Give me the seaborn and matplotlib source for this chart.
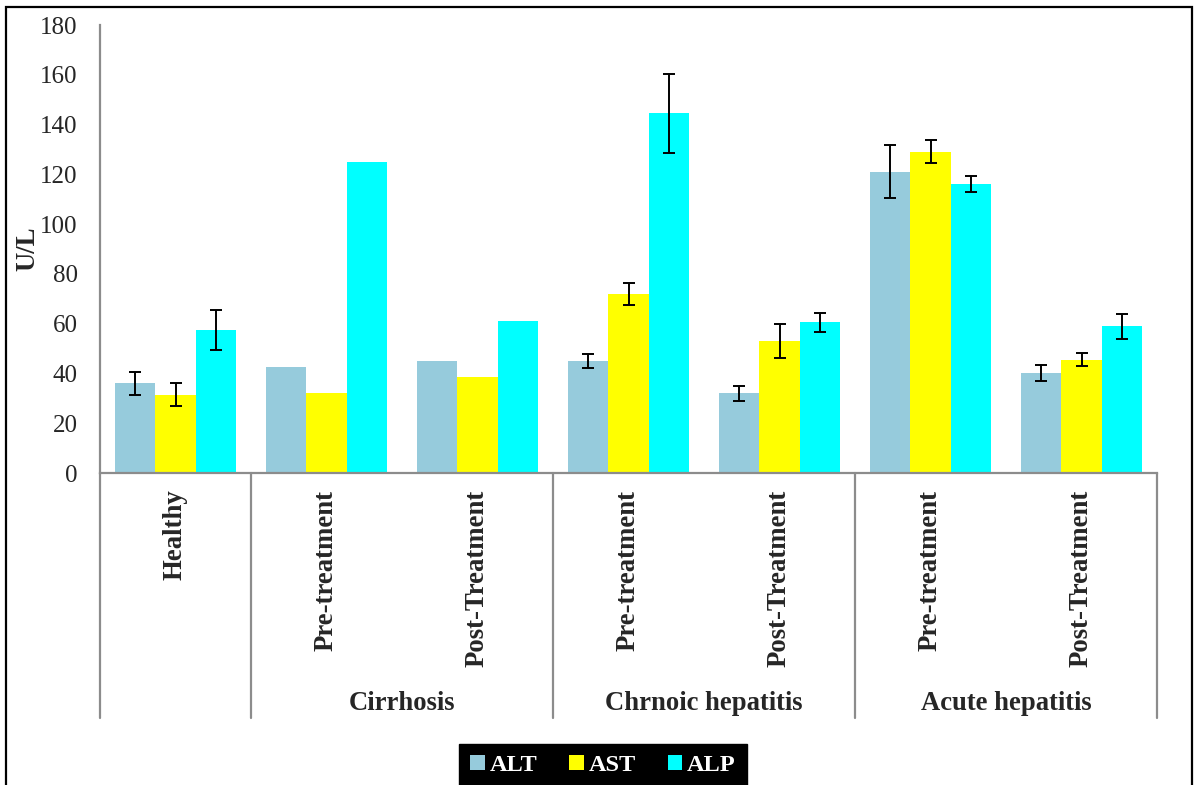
import numpy as np
import pandas as pd
import matplotlib
matplotlib.use("Agg")
import matplotlib.pyplot as plt
import matplotlib.transforms as mtransforms
from matplotlib.patches import Patch, Rectangle
import seaborn as sns

# ---- data -------------------------------------------------------------
category_keys = ["Healthy",
                 "Cirrhosis Pre", "Cirrhosis Post",
                 "Chronic Pre", "Chronic Post",
                 "Acute Pre", "Acute Post"]
tick_labels = ["Healthy", "Pre-treatment", "Post-Treatment",
               "Pre-treatment", "Post-Treatment",
               "Pre-treatment", "Post-Treatment"]
group_labels = ["Cirrhosis", "Chrnoic hepatitis", "Acute hepatitis"]

enzymes = ["ALT", "AST", "ALP"]
alt = [36, 42.5, 45, 45, 32, 121, 40]
ast = [31.5, 32, 38.5, 72, 53, 129, 45.5]
alp = [57.5, 125, 61, 144.5, 60.5, 116, 59]
alt_err = [4.5, np.nan, np.nan, 3.0, 3.0, 10.7, 3.2]
ast_err = [4.5, np.nan, np.nan, 4.3, 6.7, 4.6, 2.6]
alp_err = [8.0, np.nan, np.nan, 16.0, 3.8, 3.2, 5.0]

colors = {"ALT": "#96CBDC", "AST": "#FFFF00", "ALP": "#00FFFF"}

values = {"ALT": alt, "AST": ast, "ALP": alp}
errors = {"ALT": alt_err, "AST": ast_err, "ALP": alp_err}
df = pd.DataFrame([
    {"Category": c, "Enzyme": e, "Value": values[e][i]}
    for e in enzymes for i, c in enumerate(category_keys)
])

# ---- style ------------------------------------------------------------
sns.set_style("white")
plt.rcParams["font.family"] = ["Liberation Serif", "DejaVu Serif"]

W, H = 1195, 785
fig = plt.figure(figsize=(W / 100, H / 100), dpi=100)
ax_left, ax_right, ax_bottom, ax_top = 100, 1157, 473, 25
ax = fig.add_axes([ax_left / W, (H - ax_bottom) / H,
                   (ax_right - ax_left) / W, (ax_bottom - ax_top) / H])

sns.barplot(data=df, x="Category", y="Value", hue="Enzyme",
            order=category_keys, hue_order=enzymes, palette=colors,
            errorbar=None, width=0.8, linewidth=0, saturation=1,
            legend=False, ax=ax)

# error bars on top of each bar
for enz, cont in zip(enzymes, ax.containers):
    xs = [b.get_x() + b.get_width() / 2 for b in cont]
    ys = [b.get_height() for b in cont]
    ax.errorbar(xs, ys, yerr=errors[enz], fmt="none", ecolor="black",
                elinewidth=1.4, capsize=4.5, capthick=1.4, zorder=5)

ax.set_xlim(-0.5, len(category_keys) - 0.5)
ax.set_ylim(0, 180)
ax.set_yticks(np.arange(0, 181, 20))
ax.tick_params(axis="y", length=0, pad=16, labelsize=18)
ax.set_xticks(range(len(category_keys)))
ax.set_xticklabels(tick_labels, rotation=90, fontsize=19.3,
                   fontweight="bold", va="top", ha="center")
ax.tick_params(axis="x", length=0, pad=12)
ax.set_xlabel("")
ax.set_ylabel("U/L", fontsize=19.3, fontweight="bold")
ax.yaxis.set_label_coords(-0.056, 0.5)

for side in ["top", "right"]:
    ax.spines[side].set_visible(False)
for side in ["left", "bottom"]:
    ax.spines[side].set_color("#8c8c8c")
    ax.spines[side].set_linewidth(1.6)

# group separators below the axis
trans = mtransforms.blended_transform_factory(ax.transData, ax.transAxes)
sep_bottom = -(718 - ax_bottom) / (ax_bottom - ax_top)
for xpos in [-0.5, 0.5, 2.5, 4.5, 6.5]:
    ax.plot([xpos, xpos], [0, sep_bottom], transform=trans, color="#8c8c8c",
            lw=1.6, clip_on=False)

label_y = -(703 - ax_bottom) / (ax_bottom - ax_top)
for gx, gl in zip([1.5, 3.5, 5.5], group_labels):
    ax.text(gx, label_y, gl, transform=trans, ha="center", va="center",
            fontsize=19.2, fontweight="bold")

# legend
handles = [Patch(facecolor=colors[e], edgecolor="none", label=e) for e in enzymes]
leg = fig.legend(handles=handles, loc="upper center",
                 bbox_to_anchor=(603 / W, 1 - 744 / H), ncol=3,
                 frameon=True, facecolor="black", edgecolor="black",
                 framealpha=1, fancybox=False, borderpad=0.45,
                 borderaxespad=0,
                 handlelength=0.6, handleheight=0.6, handletextpad=0.2,
                 columnspacing=1.3, prop={"size": 17.5, "weight": "bold"})
for t in leg.get_texts():
    t.set_color("white")

# outer frame
fig.add_artist(Rectangle((6 / W, -0.05), (1192 - 6) / W, 1 - 7 / H + 0.05,
                         transform=fig.transFigure, fill=False,
                         edgecolor="black", lw=1.6))

fig.savefig("out.png", dpi=100, facecolor="white")
